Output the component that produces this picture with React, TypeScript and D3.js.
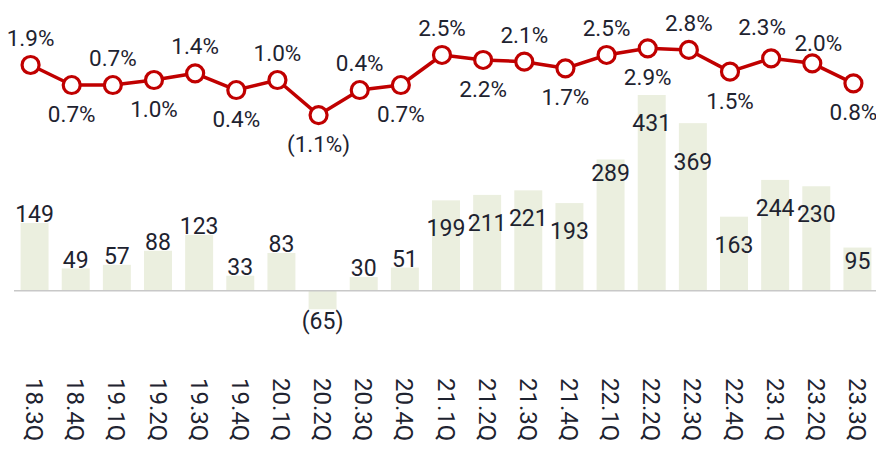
import React from "react";
import * as d3 from "d3";

const categories = ["18.3Q","18.4Q","19.1Q","19.2Q","19.3Q","19.4Q","20.1Q","20.2Q","20.3Q","20.4Q","21.1Q","21.2Q","21.3Q","21.4Q","22.1Q","22.2Q","22.3Q","22.4Q","23.1Q","23.2Q","23.3Q"];
const barValues = [149,49,57,88,123,33,83,-65,30,51,199,211,221,193,289,431,369,163,244,230,95];
const lineValues = [1.9,0.7,0.7,1.0,1.4,0.4,1.0,-1.1,0.4,0.7,2.5,2.2,2.1,1.7,2.5,2.9,2.8,1.5,2.3,2.0,0.8];
const lineLabelSide = ["a","b","a","b","a","b","a","b","a","b","a","b","a","b","a","b","a","b","a","a","b"];
const barLabelSide = ["above","above","above","above","above","above","above","below","above","above","inside","inside","inside","inside","top","inside","deep","inside","inside","inside","top"];

const W = 876, H = 449;
const RED = "#c00000";
const BAR = "#ebefdf";
const TXT = "#1e2330";
const FONT = "Roboto, 'Noto Sans', sans-serif";

const fmtBar = (v: number) => (v < 0 ? `(${Math.abs(v)})` : `${v}`);
const fmtPct = (v: number) => (v < 0 ? `(${Math.abs(v).toFixed(1)}%)` : `${v.toFixed(1)}%`);

export default function App() {
  const x = d3.scaleBand<string>().domain(categories).range([14, 878]).paddingInner(0.32).paddingOuter(0.16);
  const yBar = d3.scaleLinear().domain([0, 431]).range([290.7, 95]);
  const yLine = d3.scaleLinear().domain([0, 2.9]).range([96.7, 48.3]);
  const cx = (c: string) => (x(c) as number) + x.bandwidth() / 2;
  const lx = (c: string) => cx(c) - 4;

  const line = d3.line<number>().x((_, i) => lx(categories[i])).y((d) => yLine(d));

  const barLabelOffset: Record<string, number> = { above: -9, inside: 28, top: 13, deep: 39 };

  // simple collision nudge for two consecutive labels placed above
  const nudge = lineValues.map((_, i) => {
    if (lineLabelSide[i] === "a" && lineLabelSide[i + 1] === "a") return { dx: -9, dy: -4 };
    if (lineLabelSide[i] === "a" && lineLabelSide[i - 1] === "a") return { dx: 6, dy: 7 };
    return { dx: 0, dy: 0 };
  });

  return (
    <svg width={W} height={H} style={{ position: "absolute", left: 0, top: 0, background: "#fff" }} fontFamily={FONT}>
      {barValues.map((v, i) => {
        const c = categories[i];
        const y0 = yBar(0), y1 = yBar(v);
        return (
          <rect key={c} x={x(c)} width={x.bandwidth()} y={Math.min(y0, y1)} height={Math.abs(y1 - y0)} fill={BAR} />
        );
      })}
      <line x1={14} x2={W} y1={yBar(0)} y2={yBar(0)} stroke="#c8c8c8" strokeWidth={1.6} />
      {barValues.map((v, i) => {
        const c = categories[i];
        const side = barLabelSide[i];
        if (side === "below") {
          const yc = yBar(v) + 1;
          return (
            <g key={c}>
              <rect x={cx(c) - 22} y={yc - 12} width={44} height={24} fill="#fff" />
              <text x={cx(c)} y={yc} dy="0.35em" textAnchor="middle" fontSize={23} fill={TXT}>{fmtBar(v)}</text>
            </g>
          );
        }
        const yc = yBar(v) + barLabelOffset[side];
        return (
          <text key={c} x={cx(c)} y={yc} dy="0.35em" textAnchor="middle" fontSize={23} fill={TXT}>{fmtBar(v)}</text>
        );
      })}
      <path d={line(lineValues) || ""} fill="none" stroke={RED} strokeWidth={3.5} strokeLinejoin="round" />
      {lineValues.map((v, i) => (
        <circle key={categories[i]} cx={lx(categories[i])} cy={yLine(v)} r={8.5} fill="#fff" stroke={RED} strokeWidth={3.2} />
      ))}
      {lineValues.map((v, i) => {
        const c = categories[i];
        const yy = (lineLabelSide[i] === "a" ? yLine(v) - 19 : yLine(v) + 37) + nudge[i].dy;
        return (
          <text key={c} x={lx(c) + nudge[i].dx} y={yy} textAnchor="middle" fontSize={22.5} fill={TXT}>{fmtPct(v)}</text>
        );
      })}
      {categories.map((c) => (
        <text key={c} transform={`translate(${cx(c)},378) rotate(90)`} dy="0.35em" textAnchor="start" fontSize={24} fill={TXT}>{c}</text>
      ))}
    </svg>
  );
}
